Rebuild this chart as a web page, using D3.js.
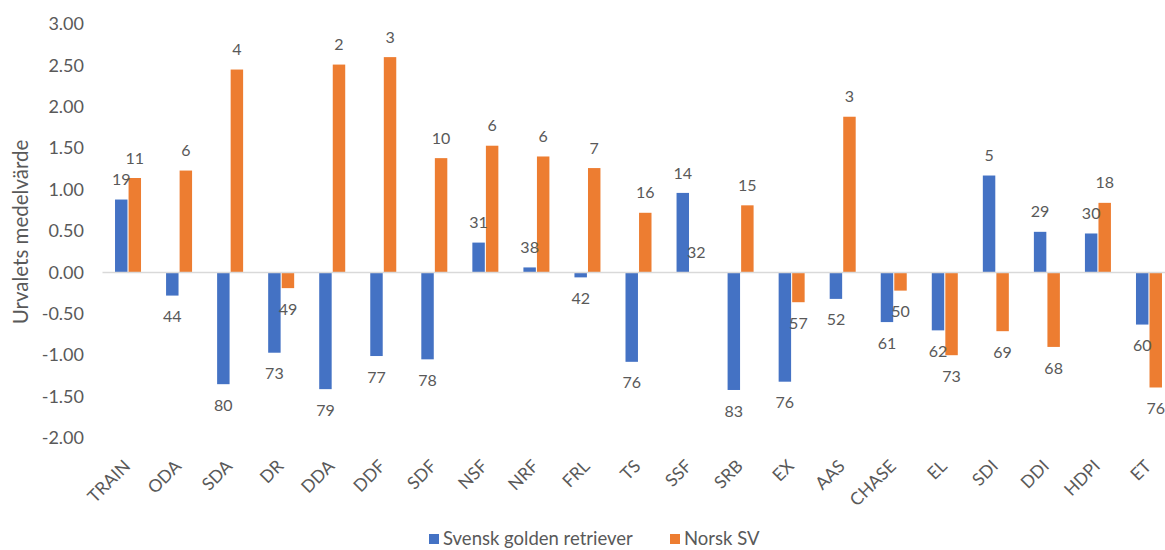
<!DOCTYPE html>
<html><head><meta charset="utf-8">
<script src="https://cdn.jsdelivr.net/npm/d3@7"></script>
<style>
html,body{margin:0;padding:0;background:#fff;overflow:hidden;}
svg{display:block;font-family:Lato, "Open Sans", sans-serif;}
</style></head>
<body>
<svg id="chart" width="1165" height="550"></svg>
<script>
const categories = ["TRAIN","ODA","SDA","DR","DDA","DDF","SDF","NSF","NRF","FRL","TS","SSF","SRB","EX","AAS","CHASE","EL","SDI","DDI","HDPI","ET"];
const seriesNames = ["Svensk golden retriever","Norsk SV"];
const svenskValues = [0.88,-0.28,-1.35,-0.97,-1.41,-1.01,-1.05,0.36,0.06,-0.06,-1.08,0.96,-1.42,-1.32,-0.32,-0.60,-0.70,1.17,0.49,0.47,-0.63];
const norskValues  = [1.14,1.23,2.45,-0.19,2.51,2.60,1.38,1.53,1.40,1.26,0.72,0.00,0.81,-0.36,1.88,-0.22,-1.00,-0.71,-0.90,0.84,-1.39];
const svenskLabels = [19,44,80,73,79,77,78,31,38,42,76,14,83,76,52,61,62,5,29,30,60];
const norskLabels  = [11,6,4,49,2,3,10,6,6,7,16,32,15,57,3,50,73,69,68,18,76];
const yTicks = [-2,-1.5,-1,-0.5,0,0.5,1,1.5,2,2.5,3];
const colors = ["#4472C4","#ED7D31"];

const svg = d3.select("#chart");
const textColor = "#595959";

const x = d3.scaleBand().domain(categories).range([102.5, 1174.5]);
const bw = x.bandwidth();
const x1 = d3.scaleBand().domain(seriesNames).range([bw/2 - 13, bw/2 + 13]).paddingInner(0.08);
const y = d3.scaleLinear().domain([-2, 3]).range([438, 24]);

// y axis labels
const yAxis = d3.axisLeft(y).tickValues(yTicks).tickFormat(d => d.toFixed(2)).tickSize(0).tickPadding(0);
const gy = svg.append("g").attr("transform","translate(84,0)").call(yAxis);
gy.select(".domain").remove();
gy.selectAll("text").attr("fill", textColor).style("font-size","18px").style("font-family","Lato, sans-serif");

// y title
svg.append("text")
  .attr("transform","translate(28,232) rotate(-90)")
  .attr("text-anchor","middle")
  .attr("fill", textColor)
  .style("font-size","20.5px")
  .text("Urvalets medelvärde");

// bars
const data = categories.map((c,i)=>({cat:c, vals:[
  {s:seriesNames[0], v:svenskValues[i], lab:svenskLabels[i], col:colors[0]},
  {s:seriesNames[1], v:norskValues[i], lab:norskLabels[i], col:colors[1]}
]}));

const gBars = svg.append("g");
const groups = gBars.selectAll("g").data(data).join("g").attr("transform", d=>`translate(${x(d.cat)},0)`);
groups.selectAll("rect").data(d=>d.vals).join("rect")
  .attr("x", d=>x1(d.s))
  .attr("width", x1.bandwidth())
  .attr("y", d=>y(Math.max(0,d.v)))
  .attr("height", d=>Math.abs(y(d.v)-y(0)))
  .attr("fill", d=>d.col);

// zero line
svg.append("line")
  .attr("x1", 102.5).attr("x2", 1174.5)
  .attr("y1", y(0)).attr("y2", y(0))
  .attr("stroke","#D9D9D9").attr("stroke-width",1.5);

// data labels
groups.selectAll("text").data(d=>d.vals).join("text")
  .attr("x", d=>x1(d.s) + x1.bandwidth()/2)
  .attr("y", d=> d.v >= 0 ? y(d.v) - 20 : y(d.v) + 21)
  .attr("dy","0.35em")
  .attr("text-anchor","middle")
  .attr("fill", textColor)
  .style("font-size","16px")
  .text(d=>d.lab);

// x axis labels
const xAxis = d3.axisBottom(x).tickSize(0).tickPadding(0);
const gx = svg.append("g").attr("transform","translate(0,452)").call(xAxis);
gx.select(".domain").remove();
gx.selectAll("text")
  .attr("fill", textColor)
  .style("font-size","17.5px")
  .style("font-family","Lato, sans-serif")
  .attr("text-anchor","end")
  .attr("dy","0.35em")
  .attr("transform","translate(-1,11) rotate(-45)");

// legend
const legendX = [429, 670];
seriesNames.forEach((s,i)=>{
  const g = svg.append("g").attr("transform",`translate(${legendX[i]},534)`);
  g.append("rect").attr("width",10).attr("height",10).attr("fill",colors[i]);
  g.append("text").attr("x",14).attr("y",5).attr("dy","0.35em")
    .attr("fill",textColor).style("font-size","18.5px").text(s);
});
</script>
</body></html>
